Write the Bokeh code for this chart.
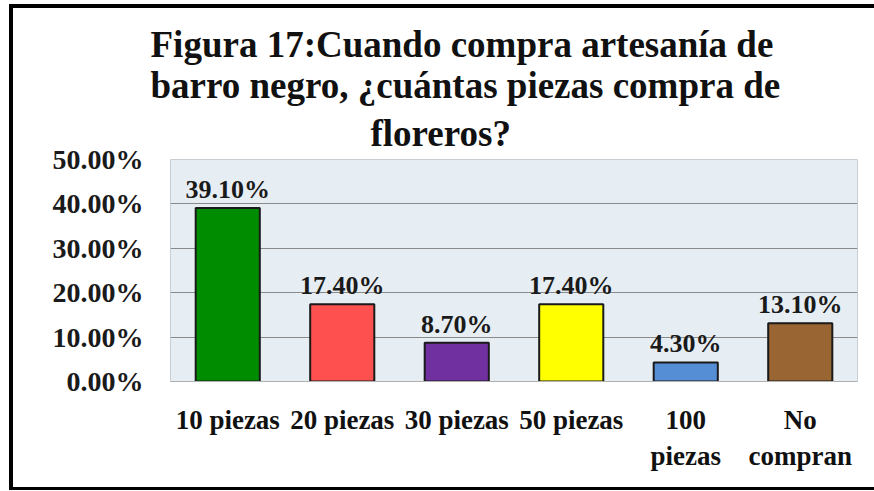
from bokeh.plotting import figure
from bokeh.models import Title, NumeralTickFormatter, ColumnDataSource, FixedTicker
from bokeh.core.properties import value
from bokeh.embed import file_html
from bokeh.resources import INLINE

categories = ["10 piezas", "20 piezas", "30 piezas", "50 piezas", "100\npiezas", "No\ncompran"]
values = [0.391, 0.174, 0.087, 0.174, 0.043, 0.131]
value_labels = ["39.10%", "17.40%", "8.70%", "17.40%", "4.30%", "13.10%"]
bar_colors = ["#008c00", "#ff5050", "#7030a0", "#ffff00", "#558ed5", "#996633"]
title_lines = [
    "Figura 17:Cuando compra artesanía de",
    "barro negro, ¿cuántas piezas compra de",
    "floreros?",
]
y_ticks = [0.0, 0.1, 0.2, 0.3, 0.4, 0.5]
grid_ticks = [0.1, 0.2, 0.3, 0.4]

SERIF = "Liberation Serif"

src = ColumnDataSource(dict(cat=categories, val=values, lab=value_labels, col=bar_colors))

p = figure(
    x_range=categories, y_range=(0, 0.5),
    width=874, height=491,
    output_backend="svg", toolbar_location=None,
    min_border_left=170, min_border_right=17, min_border_top=159, min_border_bottom=110,
    background_fill_color="#e7eef3", border_fill_color=None,
)
# black frame lines around the picture (left, top, bottom), drawn as CSS background
p.styles = {
    "background-color": "white",
    "background-image": "linear-gradient(#000,#000), linear-gradient(#000,#000), linear-gradient(#000,#000)",
    "background-position": "9px 4px, 9px 4px, 9px 487px",
    "background-size": "4px 486px, 865px 4px, 865px 3px",
    "background-repeat": "no-repeat",
}

title_left = [-20, -20, 200]
title_standoff = [-2, -2, 12]
for line, off, so in reversed(list(zip(title_lines, title_left, title_standoff))):
    p.add_layout(Title(text=line, align="left", offset=off, standoff=so,
                       text_font=SERIF, text_font_size="37px",
                       text_font_style="bold", text_color="#111111"), "above")

p.vbar(x="cat", top="val", width=0.56, source=src, fill_color="col",
       line_color="#1a1a1a", line_width=2)
p.text(x="cat", y="val", text="lab", source=src, text_align="center", text_baseline="bottom",
       y_offset=-4, text_font_size="26px", text_font_style="bold", text_color="#1a1a1a",
       text_font=value(SERIF))

p.outline_line_color = "#c8ced2"
p.xgrid.visible = False
p.ygrid.ticker = FixedTicker(ticks=grid_ticks)
p.ygrid.grid_line_color = "#8a8a8a"
p.ygrid.grid_line_width = 1

p.yaxis.ticker = FixedTicker(ticks=y_ticks)
p.yaxis.formatter = NumeralTickFormatter(format="0.00%")
p.yaxis.axis_line_color = None
p.yaxis.major_tick_line_color = None
p.yaxis.minor_tick_line_color = None
p.yaxis.major_tick_out = 0
p.yaxis.major_label_standoff = 27
p.yaxis.major_label_text_font = SERIF
p.yaxis.major_label_text_font_size = "28px"
p.yaxis.major_label_text_font_style = "bold"
p.yaxis.major_label_text_color = "#1a1a1a"

p.xaxis.axis_line_color = "#b0b0b0"
p.xaxis.major_tick_line_color = None
p.xaxis.minor_tick_line_color = None
p.xaxis.major_tick_out = 0
p.xaxis.major_label_standoff = 23
p.xaxis.major_label_text_font = SERIF
p.xaxis.major_label_text_font_size = "27px"
p.xaxis.major_label_text_font_style = "bold"
p.xaxis.major_label_text_color = "#111111"

open("out.html", "w").write(file_html(p, INLINE))
